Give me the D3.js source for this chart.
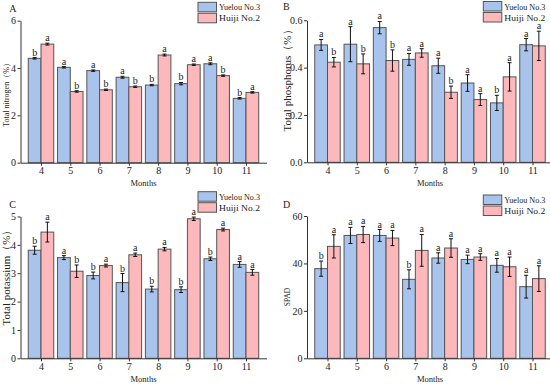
<!DOCTYPE html>
<html>
<head>
<meta charset="utf-8">
<script src="https://cdn.jsdelivr.net/npm/d3@7"></script>
<style>
body { margin: 0; background: #fff; }
text { font-family: "Liberation Serif", "Times New Roman", serif; fill: #222; }
</style>
</head>
<body>
<svg id="grafico" width="550" height="387"></svg>
<script>
let meses = [4, 5, 6, 7, 8, 9, 10, 11];
let variedades = ['Yuelou No.3', 'Huiji No.2'];

// A - nitrogenio total (%)
let nYuelou = [4.41, 4.03, 3.89, 3.61, 3.28, 3.34, 4.18, 2.72];
let nHuiji = [5.01, 3.01, 3.08, 3.21, 4.55, 4.14, 3.68, 2.97];
let nYuelouErr = [0.03, 0.03, 0.03, 0.04, 0.03, 0.05, 0.04, 0.03];
let nHuijiErr = [0.04, 0.03, 0.03, 0.03, 0.04, 0.03, 0.03, 0.03];
let nYuelouSig = ['b', 'a', 'a', 'a', 'b', 'b', 'a', 'b'];
let nHuijiSig = ['a', 'b', 'b', 'b', 'a', 'a', 'b', 'a'];

// B - fosforo total (%)
let pYuelou = [0.496, 0.499, 0.569, 0.435, 0.408, 0.335, 0.251, 0.497];
let pHuiji = [0.423, 0.416, 0.430, 0.462, 0.296, 0.265, 0.361, 0.492];
let pYuelouErr = [0.023, 0.074, 0.026, 0.025, 0.032, 0.035, 0.032, 0.026];
let pHuijiErr = [0.020, 0.042, 0.045, 0.018, 0.026, 0.025, 0.060, 0.062];
let pYuelouSig = ['a', 'a', 'a', 'a', 'a', 'a', 'b', 'a'];
let pHuijiSig = ['b', 'b', 'b', 'a', 'b', 'a', 'a', 'a'];

// C - potassio total (%)
let kYuelou = [3.81, 3.55, 2.92, 2.67, 2.44, 2.42, 3.51, 3.31];
let kHuiji = [4.45, 3.07, 3.27, 3.65, 3.85, 4.92, 4.54, 3.03];
let kYuelouErr = [0.14, 0.07, 0.12, 0.32, 0.10, 0.10, 0.06, 0.10];
let kHuijiErr = [0.35, 0.22, 0.05, 0.06, 0.06, 0.06, 0.05, 0.10];
let kYuelouSig = ['b', 'a', 'b', 'b', 'b', 'b', 'b', 'a'];
let kHuijiSig = ['a', 'b', 'a', 'a', 'a', 'a', 'a', 'a'];

// D - SPAD
let sYuelou = [37.8, 51.8, 51.8, 33.3, 42.3, 41.7, 39.2, 30.2];
let sHuiji = [47.2, 52.2, 50.7, 45.5, 46.5, 42.7, 38.6, 33.6];
let sYuelouErr = [3.2, 3.4, 2.5, 4.0, 2.2, 1.8, 2.9, 4.8];
let sHuijiErr = [4.9, 3.4, 3.2, 6.7, 3.9, 1.4, 4.1, 5.4];
let sYuelouSig = ['b', 'a', 'a', 'b', 'a', 'a', 'a', 'a'];
let sHuijiSig = ['a', 'a', 'a', 'a', 'a', 'a', 'a', 'a'];

let cores = ['#a9c4ec', '#fdb8bb'];

let paineis = [
    { letra: 'A', titulo: 'Total nitrogen（%）', ticks: [0, 2, 4, 6], fmt: d3.format('d'),
      valores: [nYuelou, nHuiji], erros: [nYuelouErr, nHuijiErr], sig: [nYuelouSig, nHuijiSig],
      x0: 20.5, topo: 20.7, base: 162.7, legX: 198, legY: 2.3, letraX: 9.3, letraY: 11.7, titX: 6.5, titY: 93, titF: 8 },
    { letra: 'B', titulo: 'Total phosphorus（%）', ticks: [0, 0.2, 0.4, 0.6], fmt: d3.format('.1f'),
      valores: [pYuelou, pHuiji], erros: [pYuelouErr, pHuijiErr], sig: [pYuelouSig, pHuijiSig],
      x0: 307, topo: 20.3, base: 162.3, legX: 483.3, legY: 1.5, letraX: 283, letraY: 10, titX: 287, titY: 78, titF: 11 },
    { letra: 'C', titulo: 'Total potassium（%）', ticks: [0, 1, 2, 3, 4, 5], fmt: d3.format('d'),
      valores: [kYuelou, kHuiji], erros: [kYuelouErr, kHuijiErr], sig: [kYuelouSig, kHuijiSig],
      x0: 20.5, topo: 216.5, base: 358.3, legX: 198, legY: 191.7, letraX: 9.3, letraY: 208, titX: 6.5, titY: 275, titF: 11 },
    { letra: 'D', titulo: 'SPAD', ticks: [0, 20, 40, 60], fmt: d3.format('d'),
      valores: [sYuelou, sHuiji], erros: [sYuelouErr, sHuijiErr], sig: [sYuelouSig, sHuijiSig],
      x0: 307, topo: 216, base: 358.3, legX: 483.3, legY: 195, letraX: 283, letraY: 208, titX: 287, titY: 297, titF: 7.5 }
];

let svg = d3.select('#grafico');
let larguraBarra = 0.435;

paineis.forEach(p => {
    let g = svg.append('g');

    let fnx = d3.scaleLinear()
        .domain([3.3, 11.7])
        .range([p.x0, p.x0 + 246]);

    let fny = d3.scaleLinear()
        .domain([0, d3.max(p.ticks)])
        .range([p.base, p.topo]);

    // barras das duas variedades
    p.valores.forEach((serie, s) => {
        let desloc = s === 0 ? -larguraBarra : 0;
        g.selectAll('.barra' + s)
            .data(serie)
            .join('rect')
            .attr('class', 'barra' + s)
            .attr('x', (d, i) => fnx(meses[i] + desloc))
            .attr('y', d => fny(d))
            .attr('width', fnx(larguraBarra) - fnx(0))
            .attr('height', d => p.base - fny(d))
            .attr('fill', cores[s])
            .attr('stroke', '#555')
            .attr('stroke-width', 1);

        let centro = i => fnx(meses[i] + desloc + larguraBarra / 2);
        let err = p.erros[s];

        let barrasErro = g.selectAll('.erro' + s)
            .data(serie)
            .join('g')
            .attr('class', 'erro' + s)
            .attr('stroke', '#111')
            .attr('stroke-width', 1);
        barrasErro.append('line')
            .attr('x1', (d, i) => centro(i)).attr('x2', (d, i) => centro(i))
            .attr('y1', (d, i) => fny(d - err[i])).attr('y2', (d, i) => fny(d + err[i]));
        barrasErro.append('line')
            .attr('x1', (d, i) => centro(i) - 2).attr('x2', (d, i) => centro(i) + 2)
            .attr('y1', (d, i) => fny(d + err[i])).attr('y2', (d, i) => fny(d + err[i]));
        barrasErro.append('line')
            .attr('x1', (d, i) => centro(i) - 2).attr('x2', (d, i) => centro(i) + 2)
            .attr('y1', (d, i) => fny(d - err[i])).attr('y2', (d, i) => fny(d - err[i]));

        g.selectAll('.rotulo' + s)
            .data(serie)
            .join('text')
            .attr('class', 'rotulo' + s)
            .text((d, i) => p.sig[s][i])
            .attr('x', (d, i) => centro(i))
            .attr('y', (d, i) => fny(d + err[i]))
            .attr('dy', -2)
            .attr('text-anchor', 'middle')
            .attr('font-size', 10);
    });

    // eixos
    let eixoY = g.append('g')
        .attr('transform', `translate(${p.x0},0)`)
        .call(d3.axisLeft(fny).tickValues(p.ticks).tickFormat(p.fmt).tickSize(3).tickSizeOuter(0).tickPadding(1.5));
    let eixoX = g.append('g')
        .attr('transform', `translate(0,${p.base})`)
        .call(d3.axisBottom(fnx).tickValues(meses).tickFormat(d3.format('d')).tickSize(3).tickSizeOuter(0).tickPadding(1.5));
    [eixoY, eixoX].forEach(e => {
        e.selectAll('path, line').attr('stroke', '#333');
        e.selectAll('text').attr('font-size', 10).attr('font-family', '"Liberation Serif", serif').attr('fill', '#222');
    });

    g.append('text')
        .text('Months')
        .attr('x', p.x0 + 123)
        .attr('y', p.base + 23.5)
        .attr('text-anchor', 'middle')
        .attr('font-size', 8.5);

    g.append('text')
        .text(p.titulo)
        .attr('transform', `translate(${p.titX + p.titF * 0.35},${p.titY}) rotate(-90)`)
        .attr('text-anchor', 'middle')
        .attr('font-size', p.titF);

    g.append('text')
        .text(p.letra)
        .attr('x', p.letraX)
        .attr('y', p.letraY)
        .attr('font-size', 10);

    // legenda
    let leg = g.selectAll('.legenda')
        .data(variedades)
        .join('g')
        .attr('class', 'legenda')
        .attr('transform', (d, i) => `translate(${p.legX},${p.legY + i * 11})`);
    leg.append('rect')
        .attr('width', 18.5)
        .attr('height', 9.5)
        .attr('fill', (d, i) => cores[i])
        .attr('stroke', '#555');
    leg.append('text')
        .text(d => d)
        .attr('x', 21)
        .attr('y', 8)
        .attr('font-size', 8.5)
        .attr('textLength', 41)
        .attr('lengthAdjust', 'spacingAndGlyphs');
});
</script>
</body>
</html>
